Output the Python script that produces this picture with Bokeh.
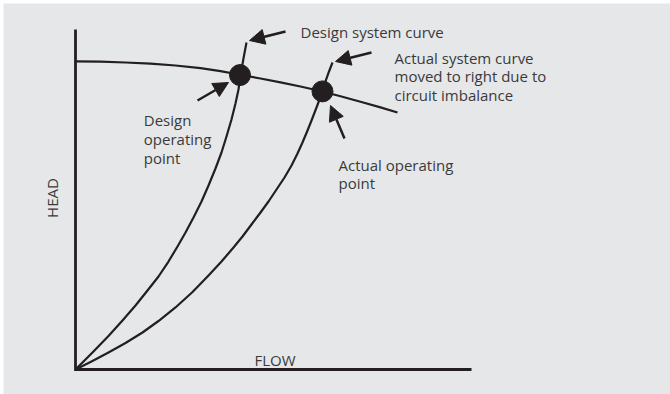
from bokeh.plotting import figure
from bokeh.models import Range1d, Arrow, NormalHead, ColumnDataSource
from bokeh.core.properties import value
from bokeh.embed import file_html
from bokeh.resources import INLINE
import math

# ---- data (flow / head in % of axis length) ----
pump_flow = [0.0, 6.31, 12.63, 18.94, 25.25, 31.57, 36.62, 41.54, 46.72, 51.77,
             56.82, 62.37, 66.92, 71.97, 77.02, 81.31]
pump_head = [90.65, 90.53, 90.29, 89.94, 89.41, 88.65, 87.76, 86.68, 85.59, 84.47,
             83.24, 81.76, 80.35, 78.74, 77.09, 75.59]

design_flow = [0.0, 4.29, 8.33, 11.87, 15.15, 18.18, 20.96, 23.48, 25.76, 27.78, 29.80,
               31.82, 33.59, 35.35, 36.87, 38.13, 39.39, 40.40, 41.16, 41.67, 42.42, 43.18]
design_head = [0.0, 5.0, 9.85, 14.41, 18.82, 23.24, 27.35, 31.76, 36.18, 40.29, 44.71,
               49.41, 54.12, 59.12, 63.82, 68.53, 73.53, 78.24, 82.35, 86.47, 91.47, 96.18]

actual_flow = [0.0, 4.04, 8.33, 12.63, 16.92, 20.96, 25.25, 29.55, 33.59, 36.87, 39.90,
               42.17, 44.44, 46.72, 48.74, 50.76, 52.78, 54.55, 56.06, 57.32, 58.59,
               59.60, 60.86, 61.62, 62.37, 63.13, 64.02, 64.90]
actual_head = [0.0, 2.35, 5.0, 7.79, 10.88, 14.26, 18.24, 22.79, 27.65, 31.76, 35.88,
               39.12, 42.65, 46.18, 49.41, 52.94, 56.47, 60.0, 63.53, 66.76, 70.29,
               73.24, 77.06, 79.41, 81.91, 84.71, 87.65, 90.29]

point_flow = [41.54, 62.37]
point_head = [86.6, 81.8]

axis_flow = [0, 0, 100]
axis_head = [100, 0, 0]

arrow_x_start = [53.03, 74.75, 30.81, 67.93]
arrow_y_start = [99.41, 93.24, 79.12, 67.94]
arrow_x_end = [43.94, 65.66, 38.64, 64.39]
arrow_y_end = [96.76, 90.59, 84.41, 77.65]

label_text = ["Design system curve",
              "Actual system curve", "moved to right due to", "circuit imbalance",
              "Design", "operating", "point",
              "Actual operating", "point",
              "FLOW"]
label_x = [56.82, 80.56, 80.56, 80.56, 17.25, 17.25, 17.25, 66.41, 66.41, 45.2]
label_y = [99.26, 91.68, 86.18, 80.74, 73.44, 67.85, 62.35, 60.15, 54.71, 2.85]

head_label = ["HEAD"]
head_x = [-5.81]
head_y = [50.44]

# ---- layout ----
W, H = 670, 394
B = 3                       # white edge, left/top
SX, SY = 3.96, 3.4          # px per unit
OX, OY = 75, 369            # page px of origin
x_range = Range1d((B - OX) / SX, (W - OX) / SX)
y_range = Range1d((OY - H) / SY, (OY - B) / SY)

BG = "#e6e7e8"
INK = "#231f20"
TXT = "#3a3a3a"

p = figure(width=W, height=H, x_range=x_range, y_range=y_range,
           x_axis_type=None, y_axis_type=None,
           output_backend="svg", toolbar_location=None,
           min_border_left=B, min_border_top=B, min_border_right=0, min_border_bottom=0)
p.grid.visible = False
p.outline_line_color = None
p.background_fill_color = BG
p.border_fill_color = "white"

p.line(axis_flow, axis_head, line_color=INK, line_width=2.8, line_join="miter")
p.line(pump_flow, pump_head, line_color=INK, line_width=2.2, line_join="round")
p.line(design_flow, design_head, line_color=INK, line_width=2.2, line_join="round")
p.line(actual_flow, actual_head, line_color=INK, line_width=2.2, line_join="round")
p.scatter(point_flow, point_head, size=21, fill_color=INK, line_color=INK)

for xs, ys, xe, ye in zip(arrow_x_start, arrow_y_start, arrow_x_end, arrow_y_end):
    p.add_layout(Arrow(x_start=xs, y_start=ys, x_end=xe, y_end=ye,
                       line_color=INK, line_width=2.5,
                       end=NormalHead(size=15, fill_color=INK, line_color=INK, line_width=1)))

src = ColumnDataSource(dict(x=label_x, y=label_y, text=label_text))
p.text(x="x", y="y", text="text", source=src, text_font=value("Open Sans"),
       text_font_size="15px", text_color=TXT, text_align="left",
       text_baseline="alphabetic")

p.text(x=head_x, y=head_y, text=head_label, angle=math.pi / 2,
       text_font=value("Open Sans"), text_font_size="15px", text_color=TXT,
       text_align="center", text_baseline="middle")

open("out.html", "w").write(file_html(p, INLINE))
